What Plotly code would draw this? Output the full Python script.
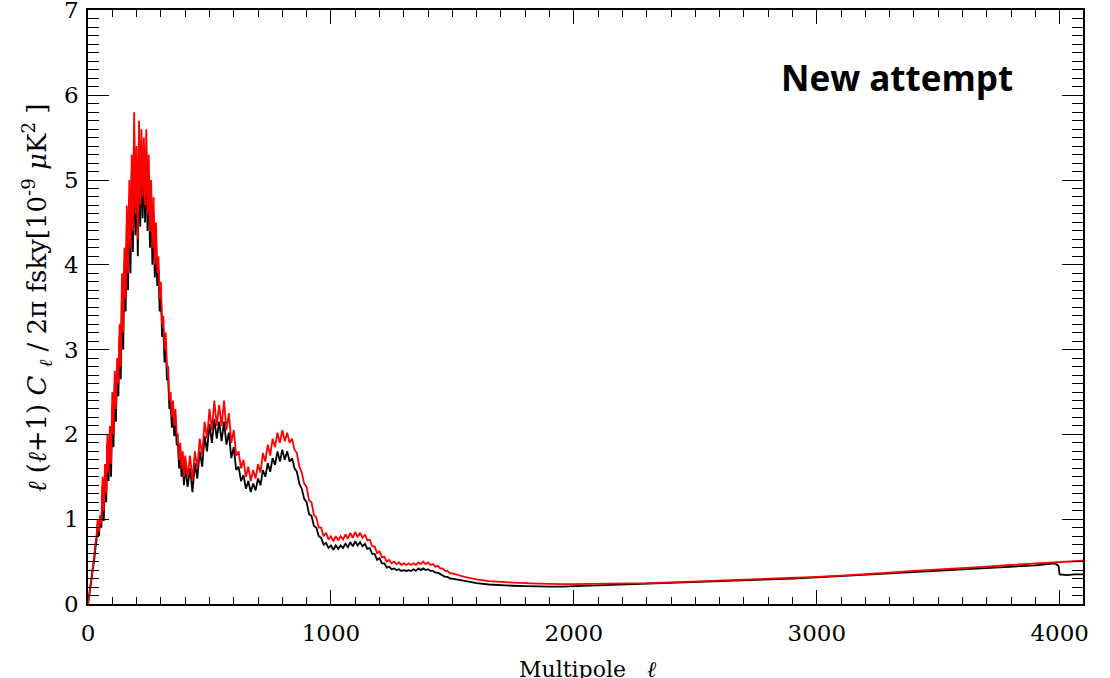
import plotly.graph_objects as go

# multipole grid: dense near the first peak, every 10 up to 1500, coarse tail
ell_a = list(range(0, 401, 5))
ell_b = list(range(410, 1501, 10))
ell_tail = [1550, 1600, 1650, 1700, 1750, 1800, 1850, 1900, 1950, 2000, 2100, 2200, 2300,
            2400, 2500, 2600, 2700, 2800, 2900, 3000, 3100, 3200, 3300, 3400, 3500, 3600,
            3700, 3800, 3900, 3950, 3980, 3995, 4000, 4030, 4060, 4096]

red_a = [0.0, 0.1, 0.22, 0.33, 0.45, 0.55, 0.7, 0.8, 1.0, 0.85,
         1.05, 0.95, 1.5, 1.1, 1.65, 1.3, 2.0, 1.55, 2.1, 1.65,
         2.5, 2.0, 2.75, 2.3, 2.9, 2.6, 3.3, 2.8, 3.9, 3.2,
         4.2, 3.6, 4.7, 3.9, 5.0, 4.2, 5.3, 4.4, 5.8, 4.6,
         5.4, 4.3, 5.7, 4.7, 5.6, 4.8, 5.5, 4.7, 5.6, 4.6,
         5.3, 4.4, 5.0, 4.2, 4.8, 4.0, 4.5, 3.9, 4.1, 3.6,
         3.8, 3.3, 3.4, 3.0, 3.2, 2.8, 2.8, 2.4, 2.5, 2.2,
         2.4, 2.1, 2.3, 2.0, 2.0, 1.7, 1.9, 1.6, 1.8, 1.5,
         1.75]
red_b = [1.5, 1.75, 1.45, 1.8, 1.6, 1.95, 1.75, 2.15, 1.95,
         2.3, 2.05, 2.4, 2.1, 2.35, 2.1, 2.4, 2.05, 2.25, 1.9,
         2.05, 1.75, 1.8, 1.6, 1.7, 1.5, 1.62, 1.45, 1.58, 1.48,
         1.65, 1.55, 1.78, 1.68, 1.88, 1.75, 1.95, 1.85, 2.02, 1.9,
         2.05, 1.92, 2.02, 1.9, 1.95, 1.82, 1.78, 1.62, 1.55, 1.42,
         1.38, 1.22, 1.2, 1.05, 1.02, 0.9, 0.9, 0.8, 0.84, 0.76,
         0.8, 0.74, 0.8, 0.75, 0.8, 0.76, 0.82, 0.77, 0.84, 0.78,
         0.85, 0.79, 0.84, 0.78, 0.82, 0.75, 0.76, 0.68, 0.68, 0.6,
         0.62, 0.55, 0.56, 0.5, 0.52, 0.48, 0.5, 0.47, 0.49, 0.46,
         0.48, 0.46, 0.48, 0.46, 0.48, 0.46, 0.49, 0.47, 0.5, 0.47,
         0.49, 0.46, 0.47, 0.44, 0.45, 0.42, 0.42, 0.39, 0.39, 0.36,
         0.36]
red_tail = [0.32, 0.29, 0.27, 0.26, 0.25, 0.245, 0.24, 0.235, 0.235, 0.235, 0.238, 0.24, 0.245,
            0.255, 0.265, 0.275, 0.285, 0.295, 0.305, 0.32, 0.335, 0.35, 0.37, 0.39, 0.405, 0.42,
            0.44, 0.46, 0.475, 0.48, 0.49, 0.49, 0.49, 0.5, 0.5, 0.51]

black_a = [0.0, 0.09, 0.2, 0.3, 0.42, 0.5, 0.65, 0.75, 0.95, 0.8,
           1.0, 0.9, 1.4, 0.98, 1.55, 1.2, 1.9, 1.45, 2.0, 1.5,
           2.35, 1.85, 2.6, 2.15, 2.8, 2.45, 3.15, 2.65, 3.75, 3.0,
           4.05, 3.45, 4.5, 3.7, 4.8, 3.9, 5.1, 4.15, 5.55, 4.35,
           5.2, 4.1, 5.45, 4.45, 5.35, 4.55, 5.3, 4.5, 5.35, 4.4,
           5.1, 4.2, 4.8, 4.0, 4.6, 3.85, 4.3, 3.75, 3.95, 3.45,
           3.65, 3.15, 3.25, 2.85, 3.05, 2.65, 2.65, 2.3, 2.38, 2.08,
           2.28, 1.98, 2.18, 1.88, 1.88, 1.6, 1.78, 1.5, 1.68, 1.4,
           1.62]
black_b = [1.38, 1.6, 1.32, 1.66, 1.48, 1.8, 1.62, 1.98, 1.8,
           2.12, 1.9, 2.18, 1.95, 2.15, 1.92, 2.15, 1.88, 2.02, 1.72,
           1.85, 1.58, 1.62, 1.45, 1.52, 1.36, 1.45, 1.32, 1.42, 1.34,
           1.48, 1.4, 1.58, 1.5, 1.66, 1.56, 1.72, 1.64, 1.8, 1.68,
           1.82, 1.7, 1.8, 1.68, 1.72, 1.6, 1.56, 1.42, 1.36, 1.24,
           1.2, 1.06, 1.04, 0.92, 0.9, 0.8, 0.78, 0.7, 0.72, 0.66,
           0.69, 0.64, 0.69, 0.65, 0.69, 0.66, 0.71, 0.67, 0.73, 0.68,
           0.74, 0.69, 0.73, 0.68, 0.71, 0.65, 0.66, 0.59, 0.59, 0.52,
           0.54, 0.48, 0.48, 0.43, 0.44, 0.41, 0.42, 0.4, 0.41, 0.39,
           0.4, 0.39, 0.4, 0.39, 0.41, 0.39, 0.42, 0.4, 0.42, 0.4,
           0.41, 0.39, 0.39, 0.37, 0.37, 0.35, 0.34, 0.32, 0.32, 0.3,
           0.3]
black_tail = [0.27, 0.245, 0.23, 0.22, 0.215, 0.21, 0.205, 0.205, 0.205, 0.21, 0.215, 0.225, 0.235,
              0.25, 0.26, 0.27, 0.28, 0.29, 0.3, 0.315, 0.33, 0.345, 0.36, 0.38, 0.395, 0.41,
              0.425, 0.44, 0.455, 0.47, 0.48, 0.45, 0.35, 0.34, 0.35, 0.35]

x_ticks = [0, 1000, 2000, 3000, 4000]
y_ticks = [0, 1, 2, 3, 4, 5, 6, 7]

ell = ell_a + ell_b + ell_tail
red = red_a + red_b + red_tail
black = black_a + black_b + black_tail

fig = go.Figure()
fig.add_trace(go.Scatter(x=ell, y=black, mode="lines",
                         line=dict(color="black", width=1.8), showlegend=False))
fig.add_trace(go.Scatter(x=ell, y=red, mode="lines",
                         line=dict(color="#ff0000", width=1.8), showlegend=False))

tickfont = dict(family="DejaVu Serif", size=23, color="black")

fig.update_xaxes(range=[0, 4096], showline=True, linecolor="black", linewidth=1.5,
                 mirror="ticks", ticks="inside", ticklen=14, tickcolor="black", tickwidth=1,
                 tickvals=x_ticks, ticktext=[str(v) for v in x_ticks],
                 minor=dict(dtick=100, ticklen=7, ticks="inside", tickcolor="black", tickwidth=1),
                 showgrid=False, zeroline=False, tickfont=tickfont, ticklabelstandoff=8,
                 ticklabeloverflow="allow", automargin=False)
fig.update_yaxes(range=[0, 7.005], showline=True, linecolor="black", linewidth=1.5,
                 mirror="ticks", ticks="inside", ticklen=21, tickcolor="black", tickwidth=1,
                 tickvals=y_ticks, ticktext=[str(v) for v in y_ticks],
                 minor=dict(dtick=0.1, ticklen=11, ticks="inside", tickcolor="black", tickwidth=1),
                 showgrid=False, zeroline=False, tickfont=tickfont, ticklabelstandoff=3,
                 ticklabeloverflow="allow", automargin=False)

fig.add_annotation(xref="paper", yref="paper", x=0.503, y=-0.086, yanchor="top", xanchor="center",
                   text="Multipole\u00a0\u00a0\u00a0<i>ℓ</i>", showarrow=False,
                   font=dict(family="DejaVu Serif", size=22, color="black"))
fig.add_annotation(xref="paper", yref="paper", x=-0.052, y=0.515, xanchor="center", yanchor="middle",
                   textangle=-90, showarrow=False,
                   text="<i>ℓ</i>\u00a0(<i>ℓ</i>+1)\u00a0<i>C</i>\u00a0<sub><i>ℓ</i></sub>\u00a0/\u00a02π\u00a0fsky[10<sup>-9</sup>\u00a0<i>μ</i>K<sup>2</sup>\u00a0]",
                   font=dict(family="DejaVu Serif", size=26, color="black"))
fig.add_annotation(xref="paper", yref="paper", x=0.932, y=0.886, xanchor="right", yanchor="middle",
                   text="<b>New attempt</b>", showarrow=False,
                   font=dict(family="Open Sans", size=35, color="black"))

fig.update_layout(width=1110, height=678, margin=dict(l=88, r=27, t=10, b=74),
                  paper_bgcolor="white", plot_bgcolor="white")

fig.write_html("out.html")
